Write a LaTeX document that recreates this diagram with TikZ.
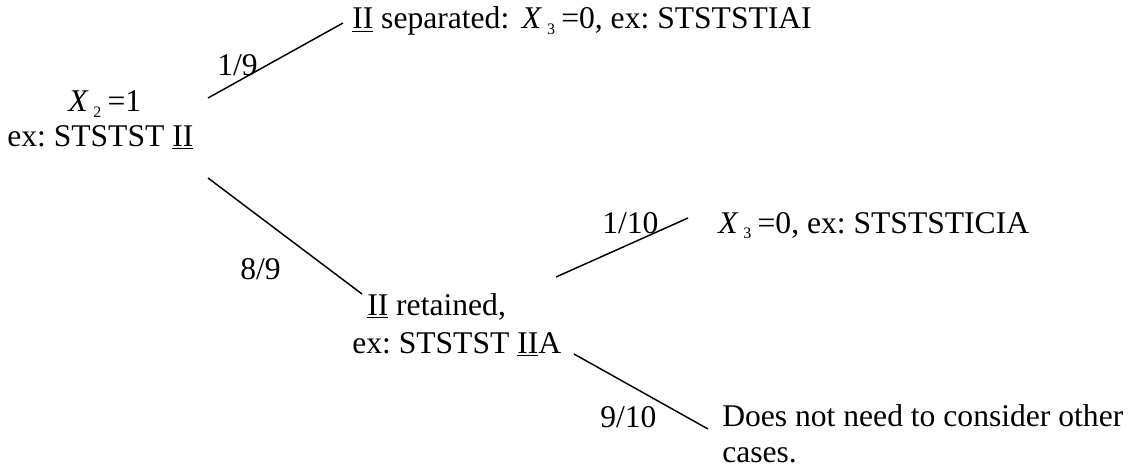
\documentclass[tikz,border=0pt]{standalone}
\usepackage{fontspec}
\setmainfont{Liberation Serif}
\frenchspacing
\newcommand{\xsub}[1]{\textit{X}\hspace{0.15em}\raisebox{-0.17em}{\fontsize{12}{12}\selectfont #1}\hspace{0.2em}}
\begin{document}
\begin{tikzpicture}[x=0.75pt,y=-0.75pt,
	txt/.style={font=\fontsize{23.7}{28}\selectfont, inner sep=0pt, anchor=base west},
	branch/.style={line width=1.1pt}]
	\useasboundingbox (0,0) rectangle (1131,467);
	% root
	\node[txt] (root1) at (68,112)  {\xsub{2}=1};
	\node[txt] (root2) at (7,146)   {ex: STSTST \underline{II}};
	% first split
	\node[txt] (sep)   at (352,29)  {\underline{II} separated:\hspace{0.4em}\xsub{3}=0, ex: STSTSTIAI};
	\node[txt] (p19)   at (217,75)  {1/9};
	\node[txt] (p89)   at (240,279) {8/9};
	\node[txt] (ret1)  at (367,315) {\underline{II} retained,};
	\node[txt] (ret2)  at (352,353) {ex: STSTST \underline{II}A};
	% second split
	\node[txt] (p110)  at (602,233) {1/10};
	\node[txt] (zero)  at (718,233) {\xsub{3}=0, ex: STSTSTICIA};
	\node[txt] (p910)  at (600,427) {9/10};
	\node[txt] (done1) at (722,426) {Does not need to consider other};
	\node[txt] (done2) at (722,462) {cases.};
	% branch ends
	\coordinate (rootup) at (208,98);
	\coordinate (rootdn) at (208,178);
	\coordinate (sepin)  at (343,23);
	\coordinate (retin)  at (362,294);
	\coordinate (retup)  at (556,277);
	\coordinate (retdn)  at (574,354);
	\coordinate (zeroin) at (688,218);
	\coordinate (donein) at (708,429);
	\draw[branch] (rootup) -- (sepin);
	\draw[branch] (rootdn) -- (retin);
	\draw[branch] (retup) -- (zeroin);
	\draw[branch] (retdn) -- (donein);
\end{tikzpicture}
\end{document}
